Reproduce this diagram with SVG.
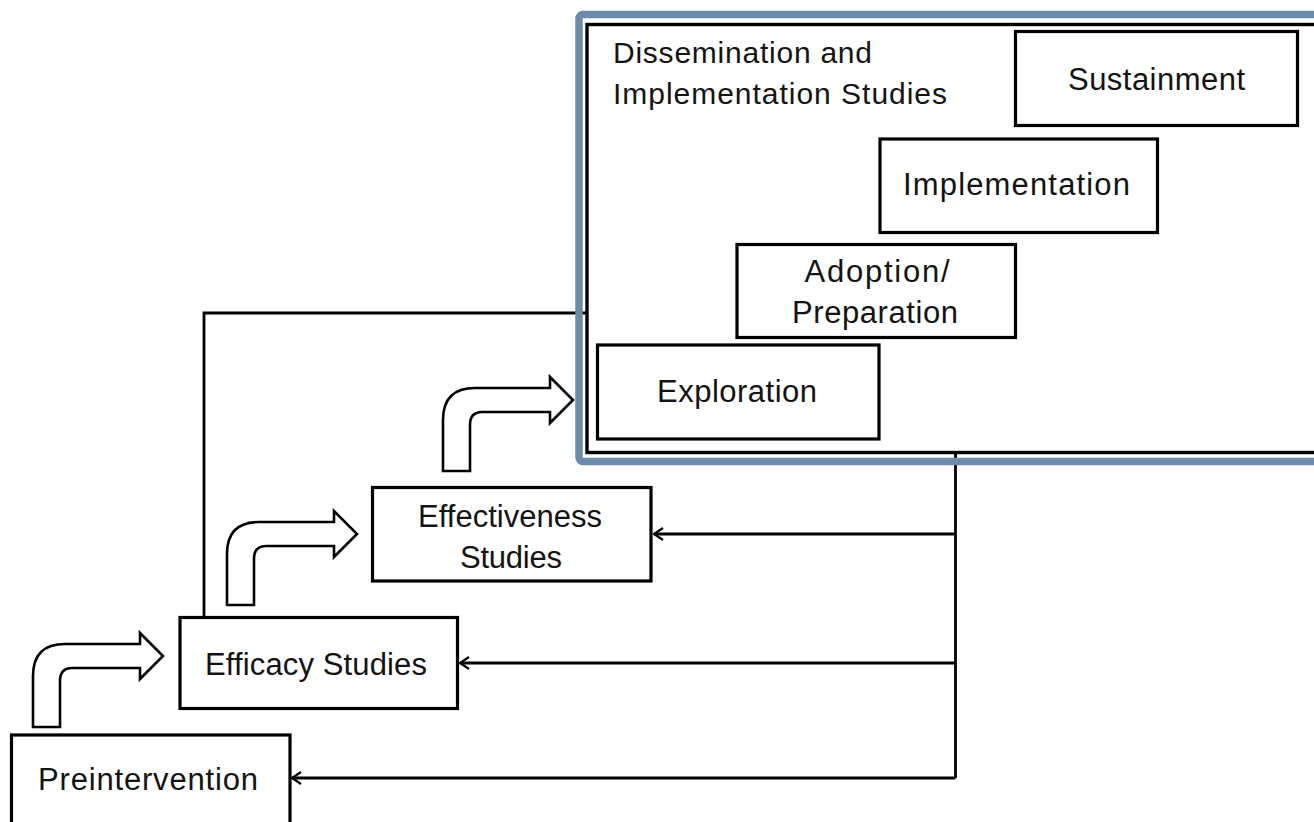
<svg xmlns="http://www.w3.org/2000/svg" width="1314" height="822" viewBox="0 0 1314 822">
  <style>
    .box { fill: #ffffff; stroke: #000000; stroke-width: 3.2; }
    .lbl { font-family: "Liberation Sans", Arial, sans-serif; font-size: 31px; fill: #141414; text-anchor: middle; }
    .title { font-family: "Liberation Sans", Arial, sans-serif; font-size: 30px; fill: #141414; }
    .conn { fill: none; stroke: #000000; stroke-width: 2.8; }
    .bent { fill: #ffffff; stroke: #000000; stroke-width: 2.6; stroke-linejoin: miter; }
  </style>
  <defs>
    <marker id="chev" markerUnits="userSpaceOnUse" markerWidth="16" markerHeight="16" viewBox="-13 -8 16 16" refX="0" refY="0" orient="auto">
      <path d="M -9,-6 L 0,0 L -9,6" fill="none" stroke="#000" stroke-width="2.2"/>
    </marker>
    <path id="bentArrow" d="M -130,71 L -130,20 Q -130,-12 -98,-12 L -23,-12 L -23,-23 L 0,0 L -23,23 L -23,12 L -91,12 Q -103,12 -103,25 L -103,71 Z"/>
  </defs>
  <rect x="0" y="0" width="1314" height="822" fill="#ffffff"/>

  <g id="connectors">
    <path class="conn" d="M 204,617 L 204,313 L 586,313"/>
    <path class="conn" d="M 955.5,452 L 955.5,778"/>
    <path class="conn" d="M 955.5,534 L 654,534" marker-end="url(#chev)"/>
    <path class="conn" d="M 955.5,663 L 460,663" marker-end="url(#chev)"/>
    <path class="conn" d="M 955.5,778 L 292,778" marker-end="url(#chev)"/>
  </g>

  <g id="frame">
    <rect x="579" y="14.5" width="780" height="447" rx="4" fill="none" stroke="#6c8aaa" stroke-width="7.5"/>
    <rect x="587" y="24.5" width="760" height="428" fill="none" stroke="#000" stroke-width="3.4"/>
    <text class="title" x="613" y="63" textLength="259">Dissemination and</text>
    <text class="title" x="613" y="104" textLength="334">Implementation Studies</text>
  </g>

  <g id="bent-arrows">
    <use href="#bentArrow" class="bent" transform="translate(163,656)"/>
    <use href="#bentArrow" class="bent" transform="translate(357,534)"/>
    <use href="#bentArrow" class="bent" transform="translate(573,400)"/>
  </g>

  <g id="preintervention">
    <rect class="box" x="11.5" y="735" width="278.5" height="100"/>
    <text class="lbl" x="148" y="790" textLength="220">Preintervention</text>
  </g>

  <g id="efficacy">
    <rect class="box" x="180" y="617.5" width="277.5" height="91"/>
    <text class="lbl" x="316" y="675" textLength="222">Efficacy Studies</text>
  </g>

  <g id="effectiveness">
    <rect class="box" x="372.5" y="487.5" width="278.5" height="93.5"/>
    <text class="lbl" x="510" y="527" textLength="184">Effectiveness</text>
    <text class="lbl" x="511" y="568" textLength="102">Studies</text>
  </g>

  <g id="exploration">
    <rect class="box" x="597.5" y="345" width="281.5" height="94"/>
    <text class="lbl" x="737" y="402" textLength="160">Exploration</text>
  </g>

  <g id="adoption">
    <rect class="box" x="737" y="244.5" width="278.5" height="93"/>
    <text class="lbl" x="877" y="282" textLength="145">Adoption/</text>
    <text class="lbl" x="875" y="323" textLength="166">Preparation</text>
  </g>

  <g id="implementation">
    <rect class="box" x="880" y="139" width="277.5" height="93.5"/>
    <text class="lbl" x="1016.5" y="195" textLength="227">Implementation</text>
  </g>

  <g id="sustainment">
    <rect class="box" x="1015.5" y="31.5" width="282" height="94"/>
    <text class="lbl" x="1156.5" y="90" textLength="177">Sustainment</text>
  </g>
</svg>
